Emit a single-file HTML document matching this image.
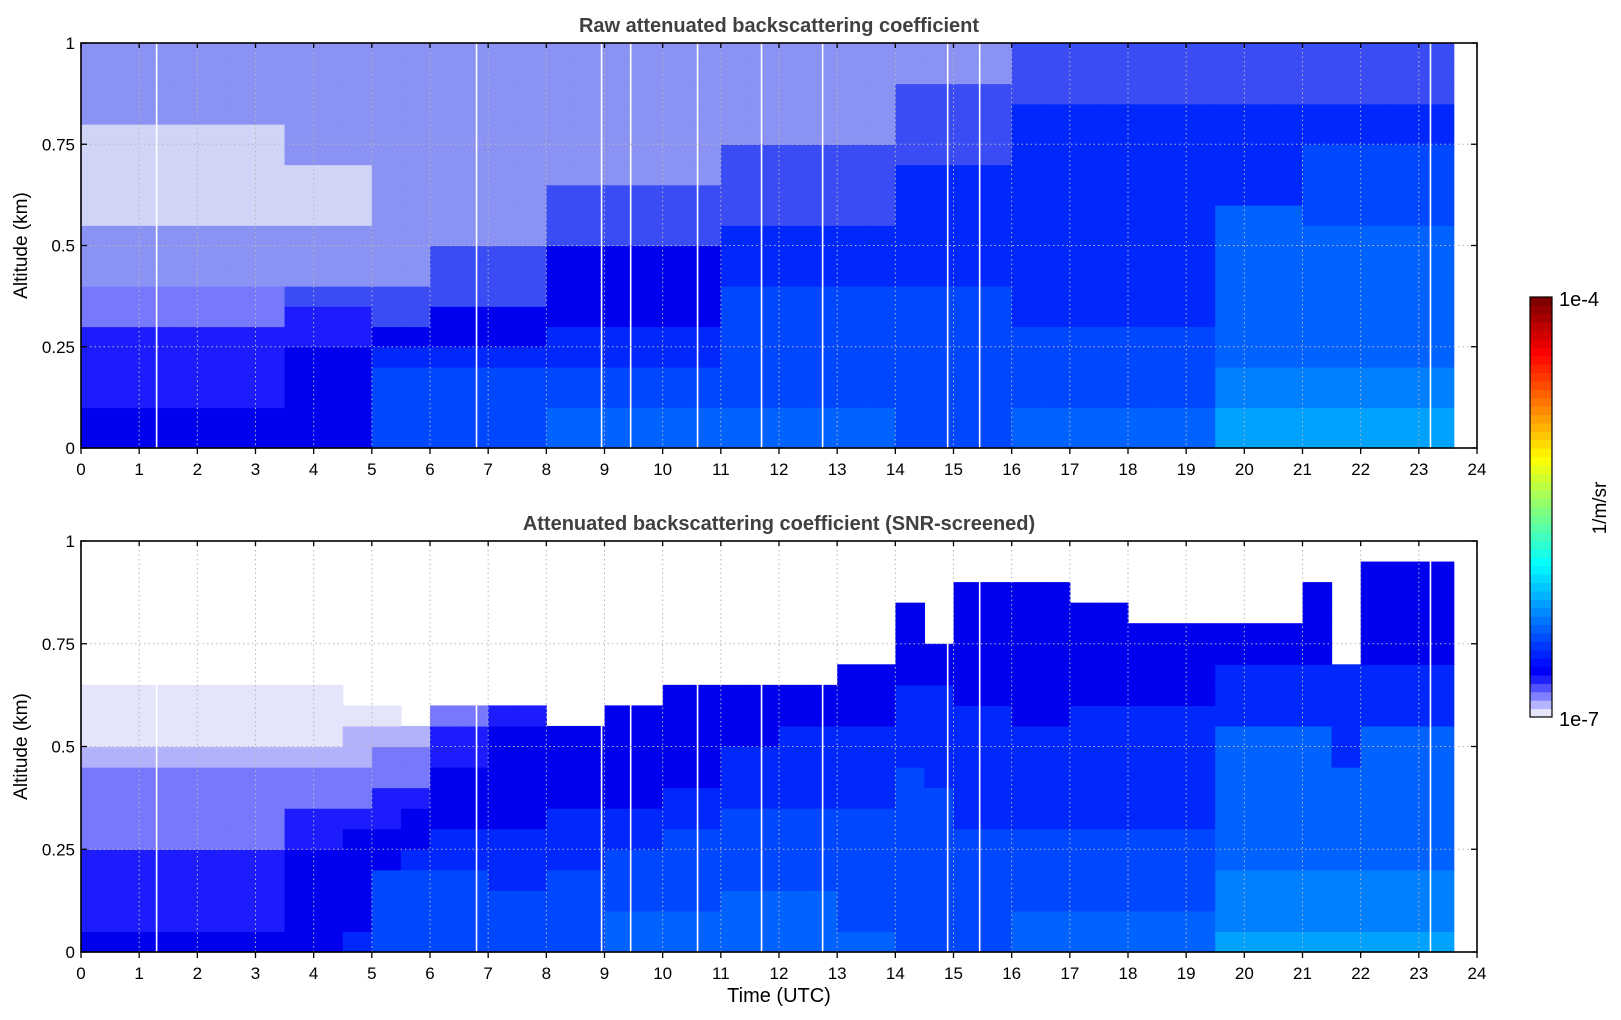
<!DOCTYPE html>
<html><head><meta charset="utf-8"><style>
html,body{margin:0;padding:0;background:#fff;}
svg{display:block;font-family:"Liberation Sans","DejaVu Sans",sans-serif;}
</style></head><body>
<svg id="fig" width="1621" height="1020" viewBox="0 0 1621 1020"></svg>
<script>
// ---- data ----
// Column strings: one per half-hour time bin (0-24h), 20 altitude levels bottom (0 km) -> top (1 km)
// Codes are color levels of backscatter (0 = screened / no data)
const rawColumns = [
"55444433xxxwwwwwxxxx","55444433xxxwwwwwxxxx","55444433xxxwwwwwxxxx","55444433xxxwwwwwxxxx",
"55444433xxxwwwwwxxxx","55444433xxxwwwwwxxxx","55444433xxxwwwwwxxxx",
"5555544yxxxwwwxxxxxx","5555544yxxxwwwxxxxxx","5555544yxxxwwwxxxxxx",
"777765yyxxxxxxxxxxxx","777765yyxxxxxxxxxxxx",
"7777655yyyxxxxxxxxxx","7777655yyyxxxxxxxxxx","7777655yyyxxxxxxxxxx","7777655yyyxxxxxxxxxx",
"8877665555yyyxxxxxxx","8877665555yyyxxxxxxx","8877665555yyyxxxxxxx","8877665555yyyxxxxxxx","8877665555yyyxxxxxxx","8877665555yyyxxxxxxx",
"88777777666yyyyxxxxx","88777777666yyyyxxxxx","88777777666yyyyxxxxx","88777777666yyyyxxxxx","88777777666yyyyxxxxx","88777777666yyyyxxxxx",
"77777777666666yyyyxx","77777777666666yyyyxx","77777777666666yyyyxx","77777777666666yyyyxx",
"88777766666666666yyy","88777766666666666yyy","88777766666666666yyy","88777766666666666yyy","88777766666666666yyy","88777766666666666yyy","88777766666666666yyy",
"aa998888888866666yyy","aa998888888866666yyy","aa998888888866666yyy",
"aa998888888777766yyy","aa998888888777766yyy","aa998888888777766yyy","aa998888888777766yyy","aa998888888777766yyy","aa998888888777766yyy"
];
const snrColumns = [
"54444333321110000000","54444333321110000000","54444333321110000000","54444333321110000000",
"54444333321110000000","54444333321110000000","54444333321110000000",
"55555443321110000000","55555443321110000000","65555543322100000000",
"77775544332100000000","77776554332000000000",
"77776655544300000000","77776655544300000000","77766655555400000000","77766655555400000000",
"77776665555000000000","77776665555000000000","88777665555500000000","88777665555500000000",
"88777766555550000000","88777766555550000000","88877776665550000000","88877776665550000000",
"88877776666550000000","88877776666550000000","87777776666555000000","87777776666555000000",
"77777777766665555000","77777777666665500000","77777766666655555500","77777766666655555500",
"88777766666555555500","88777766666555555500","88777766666655555000","88777766666655555000",
"88777766666655550000","88777766666655550000","88777766666655550000",
"a9998888888666550000","a9998888888666550000","a9998888888666550000",
"a9998888888666555500","a9998888866666000000",
"a9998888888666555550","a9998888888666555550","a9998888888666555550","a9998888888666555550"
];
const gapHours = [1.3, 6.8, 8.95, 9.45, 10.6, 11.7, 12.75, 14.9, 15.45, 23.2];
const dataEndHour = 23.6;
const xTicks = [0,1,2,3,4,5,6,7,8,9,10,11,12,13,14,15,16,17,18,19,20,21,22,23,24];
const yTicks = [0,0.25,0.5,0.75,1];
const yTickLabels = ["0","0.25","0.5","0.75","1"];
const cbarLabels = ["1e-7","1e-4"];

const levelColors = {"1":"#e4e4fa","2":"#b2b2fc","3":"#7878fc","4":"#1c1cfc","5":"#0000ee",
 "6":"#0028fc","7":"#0048ff","8":"#0062ff","9":"#0080ff","a":"#00a2ff","b":"#00c0ff",
 "w":"#d0d4f7","x":"#8a92f4","y":"#3a4cf4"};

const NS="http://www.w3.org/2000/svg";
const svg=document.getElementById('fig');
function mk(tag,attrs,parent){const e=document.createElementNS(NS,tag);for(const k in attrs)e.setAttribute(k,attrs[k]);(parent||svg).appendChild(e);return e;}

const X0=81,X1=1477;
function xs(h){return X0+(X1-X0)*h/24;}

function drawPanel(top,bottom,cols,title,name,showXLabel){
  const g=mk('g',{});
  
  
  const ys=v=>bottom-(bottom-top)*v;
  const binH=0.5, nLev=20;
  cols.forEach((col,ci)=>{
    const h0=ci*binH, h1=Math.min(dataEndHour,(ci+1)*binH);
    if(h1<=h0)return;
    for(let r=0;r<nLev;r++){
      const c=col[r]; if(c==="0")continue;
      const y0=ys((r+1)/nLev), y1=ys(r/nLev);
      const rc=mk('rect',{x:xs(h0),y:y0,width:xs(h1)-xs(h0)+0.6,height:y1-y0+0.6,fill:levelColors[c]},g);
      
      
    }
  });
  gapHours.forEach(h=>{
    const l=mk('line',{x1:xs(h),x2:xs(h),y1:top,y2:bottom,stroke:'#fff','stroke-width':1.6},g);
    
    
  });
  xTicks.forEach(t=>{ if(t>0&&t<24){const l=mk('line',{x1:xs(t),x2:xs(t),y1:top,y2:bottom,stroke:'#b8b8b8','stroke-width':1,'stroke-dasharray':'1.5,3'},g);
    
    }});
  yTicks.forEach(t=>{ if(t>0&&t<1){const l=mk('line',{x1:X0,x2:X1,y1:ys(t),y2:ys(t),stroke:'#b8b8b8','stroke-width':1,'stroke-dasharray':'1.5,3'},g);
    
    }});
  const fr=mk('rect',{x:X0,y:top,width:X1-X0,height:bottom-top,fill:'none',stroke:'#000','stroke-width':1.6},g);
  
  
  xTicks.forEach(t=>{
    mk('line',{x1:xs(t),x2:xs(t),y1:bottom,y2:bottom+6,stroke:'#000','stroke-width':1.3},g);
    mk('line',{x1:xs(t),x2:xs(t),y1:top,y2:top+5,stroke:'#000','stroke-width':1.3},g);
    const tx=mk('text',{x:xs(t),y:bottom+27,'text-anchor':'middle','font-size':17,fill:'#000'},g);
    tx.textContent=t;
    
    
  });
  yTicks.forEach((t,i)=>{
    mk('line',{x1:X0,x2:X0+6,y1:ys(t),y2:ys(t),stroke:'#000','stroke-width':1.3},g);
    mk('line',{x1:X1-6,x2:X1,y1:ys(t),y2:ys(t),stroke:'#000','stroke-width':1.3},g);
    const tx=mk('text',{x:75,y:ys(t)+6,'text-anchor':'end','font-size':17,fill:'#000'},g);
    tx.textContent=yTickLabels[i];
    
    
  });
  const tt=mk('text',{x:(X0+X1)/2,y:top-11,'text-anchor':'middle','font-size':20,'font-weight':'bold',fill:'#404040'},g);
  tt.textContent=title;
  
  
  const yl=mk('text',{x:0,y:0,'text-anchor':'middle','font-size':19,fill:'#000',transform:`translate(27,${(top+bottom)/2}) rotate(-90)`},g);
  yl.textContent='Altitude (km)';
  
  
  if(showXLabel){
    const xl=mk('text',{x:(X0+X1)/2,y:bottom+50,'text-anchor':'middle','font-size':20,fill:'#000'},g);
    xl.textContent='Time (UTC)';
    
    
  }
}
drawPanel(43,448,rawColumns,'Raw attenuated backscattering coefficient','raw-backscatter-panel',false);
drawPanel(541,952,snrColumns,'Attenuated backscattering coefficient (SNR-screened)','screened-backscatter-panel',true);

function jet(t){const r=Math.min(1,Math.max(0,1.5-Math.abs(4*t-3))),g=Math.min(1,Math.max(0,1.5-Math.abs(4*t-2))),b=Math.min(1,Math.max(0,1.5-Math.abs(4*t-1)));
 return `rgb(${Math.round(r*255)},${Math.round(g*255)},${Math.round(b*255)})`;}
const CB={x:1530,w:22,top:297,bottom:717};
const cbLow=["#e6e6fa","#b4b4ff","#8080ff","#5050ff","#2020ff"];
const nSeg=50;
const cg=mk('g',{});


for(let i=0;i<nSeg;i++){
  const segH=(CB.bottom-CB.top)/nSeg;
  const col=i<cbLow.length?cbLow[i]:jet(0.12+0.88*(i-cbLow.length)/(nSeg-cbLow.length-1));
  mk('rect',{x:CB.x,y:CB.bottom-(i+1)*segH,width:CB.w,height:segH+0.5,fill:col},cg);
}
mk('rect',{x:CB.x,y:CB.top,width:CB.w,height:CB.bottom-CB.top,fill:'none',stroke:'#000','stroke-width':1.2},cg);
const l1=mk('text',{x:1559,y:CB.bottom+9,'font-size':20,fill:'#000'},cg); l1.textContent=cbarLabels[0];


const l2=mk('text',{x:1559,y:CB.top+9,'font-size':20,fill:'#000'},cg); l2.textContent=cbarLabels[1];


const ul=mk('text',{x:0,y:0,'text-anchor':'middle','font-size':19,fill:'#000',transform:'translate(1606,508) rotate(-90)'},cg); ul.textContent='1/m/sr';


</script>
</body></html>
